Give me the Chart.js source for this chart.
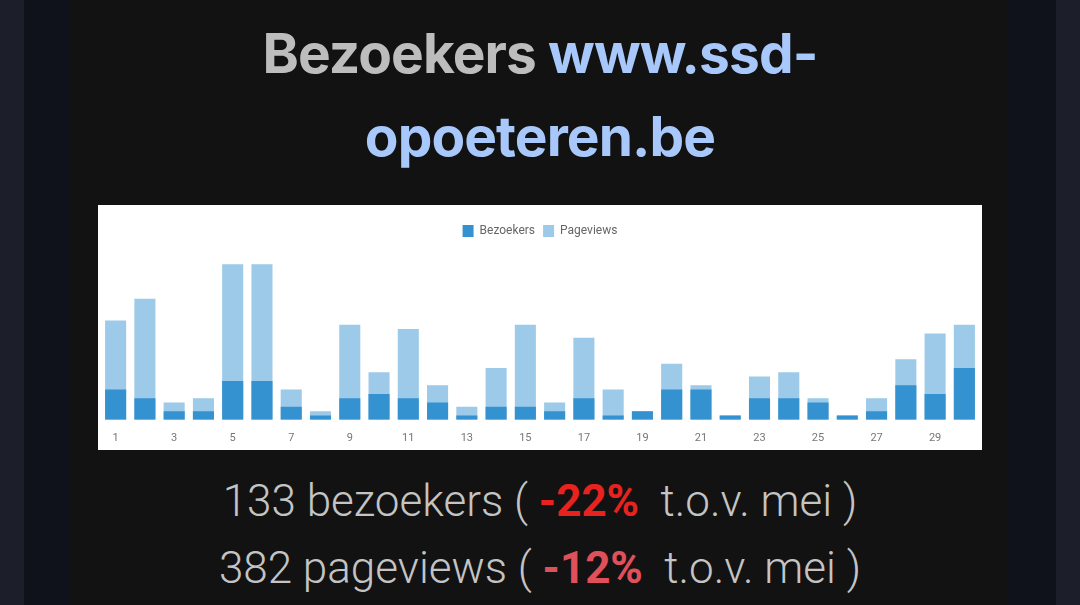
<!DOCTYPE html>
<html>
<head>
<meta charset="utf-8">
<script src="https://cdn.jsdelivr.net/npm/chart.js@4.4.0/dist/chart.umd.min.js"></script>
<style>
  html, body { margin: 0; padding: 0; }
  body {
    width: 1080px; height: 605px; overflow: hidden;
    background: #1c1f2a; position: relative;
  }
  .side { position: absolute; top: 0; left: 24px; width: 1032px; height: 605px; background: #0f121a; }
  .panel { position: absolute; top: 0; left: 70px; width: 937px; height: 605px; background: #121212; }
  .title {
    position: absolute; left: 0; top: 12px; width: 1080px; text-align: center;
    font-family: Inter, sans-serif; font-weight: 700; font-size: 55px; line-height: 83px;
    letter-spacing: -0.9px; color: #bdbdbd;
  }
  .title span { color: #a8c7fa; }
  .chartbox { position: absolute; left: 98px; top: 205px; width: 884px; height: 245px; background: #fff; overflow: hidden; }
  .chartwrap { position: relative; width: 884px; height: 259px; }
  .stats {
    position: absolute; left: 0; top: 468px; width: 1080px; text-align: center;
    font-family: Roboto, sans-serif; font-weight: 300; font-size: 44px; line-height: 67px; color: #c4c4c4;
  }
  .stats b { font-weight: 700; }
  .r1 { color: #e8231f; }
  .r2 { color: #e0505a; }
</style>
</head>
<body>
<div class="side"></div>
<div class="panel"></div>
<div class="title">Bezoekers <span>www.ssd-<br>opoeteren.be</span></div>
<div class="chartbox"><div class="chartwrap"><canvas id="visits"></canvas></div></div>
<div class="stats">
  <div>133 bezoekers ( <b class="r1">-22%</b>&nbsp; t.o.v. mei )</div>
  <div>382 pageviews ( <b class="r2">-12%</b>&nbsp; t.o.v. mei )</div>
</div>
<script>
// days of june
const days = ['1','2','3','4','5','6','7','8','9','10','11','12','13','14','15',
  '16','17','18','19','20','21','22','23','24','25','26','27','28','29','30']
const bezoekers = [7,5,2,2,9,9,3,1,5,6, 5,4,1,3,3,2,5,1,2,7, 7,1,5,5,4,1,2,8,6,12]
const pageviews = [23,28,4,5,36,36,7,2,22,11, 21,8,3,12,22,4,19,7,2,13, 8,1,10,11,5,1,5,14,20,22]

const canvas = document.getElementById('visits')
new Chart(canvas, {
  type: 'bar',
  data: {
    labels: days,
    datasets: [{
      label: 'Bezoekers',
      data: bezoekers,
      backgroundColor: '#3592d0',
      grouped: false,
      barPercentage: 0.72,
      categoryPercentage: 1
    }, {
      label: 'Pageviews',
      data: pageviews,
      backgroundColor: '#9dcae8',
      grouped: false,
      barPercentage: 0.72,
      categoryPercentage: 1
    }]
  },
  options: {
    responsive: true,
    maintainAspectRatio: false,
    animation: false,
    layout: { padding: { left: 3, right: 3, top: 12, bottom: 7 } },
    plugins: {
      legend: {
        labels: {
          boxWidth: 11, boxHeight: 12, padding: 8,
          color: '#666', font: { family: 'Roboto', size: 12 }
        }
      },
      tooltip: { enabled: false }
    },
    scales: {
      x: {
        grid: { display: false, drawTicks: false },
        border: { display: false },
        ticks: {
          autoSkip: false, maxRotation: 0, padding: 12,
          color: '#777', font: { family: 'Roboto', size: 11 },
          callback: function(v, i) { return i % 2 == 0 ? days[i] : '' }
        }
      },
      y: {
        display: false,
        min: 0,
        max: 40
      }
    }
  }
})
</script>
</body>
</html>
